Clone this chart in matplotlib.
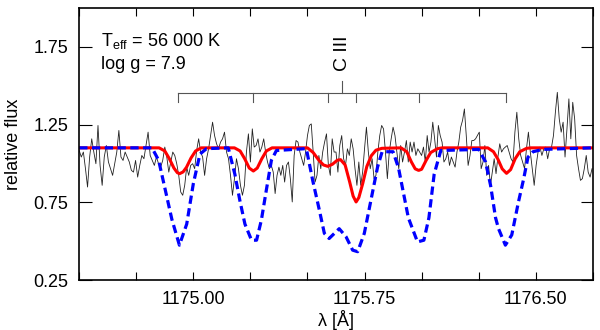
import numpy as np
import matplotlib
matplotlib.use('Agg')
import matplotlib.pyplot as plt
from matplotlib.ticker import FixedLocator, MultipleLocator

plt.rcParams['font.family'] = ['Liberation Sans', 'DejaVu Sans']
plt.rcParams['mathtext.default'] = 'regular'

# observed spectrum, read in six chunks (start/end wavelength of each chunk)
obs_edges = [1174.50, 1174.875, 1175.25, 1175.625, 1176.00, 1176.375, 1176.755]
obs_chunks = [
    [1.083, 1.041, 1.073, 0.966, 0.848, 1.041, 1.158, 1.073, 0.998, 1.244, 0.987, 0.859, 1.041, 1.115,
     1.009, 0.966, 0.923, 0.998, 1.073, 1.212, 1.041, 1.019, 1.073, 1.041, 1.009, 0.955, 0.944, 1.019,
     0.912, 0.987, 1.051, 1.030, 1.115, 1.201, 1.051, 1.019, 0.987, 1.041, 0.998, 0.976, 1.019],
    [1.105, 1.041, 0.944, 1.009, 1.073, 1.051, 0.998, 0.923, 0.816, 0.795, 0.859, 0.976, 0.923, 0.987,
     0.998, 0.966, 1.083, 1.158, 1.073, 1.041, 0.923, 1.030, 1.094, 1.179, 1.265, 1.179, 1.126, 1.094,
     1.137, 1.158, 1.201, 1.073, 1.030, 0.923, 0.795, 0.902, 1.030, 0.966, 0.859, 0.795, 0.859, 1.073, 1.190],
    [1.009, 1.222, 1.105, 1.115, 1.158, 1.073, 1.105, 1.158, 1.073, 1.009, 0.966, 0.987, 0.944, 0.806,
     0.923, 0.976, 0.923, 0.987, 0.880, 0.987, 1.009, 0.902, 0.752, 1.051, 1.147, 1.137, 1.073, 1.030,
     0.987, 1.073, 1.179, 1.244, 1.254, 1.073, 0.880, 0.923, 1.051, 0.966, 1.073, 1.137, 1.190, 0.987,
     0.923, 1.158, 1.073],
    [1.073, 0.944, 1.115, 1.179, 1.030, 0.987, 1.094, 1.051, 1.158, 1.094, 0.966, 0.859, 1.009, 0.859,
     0.944, 1.094, 1.233, 1.073, 0.966, 1.030, 0.902, 0.923, 1.073, 1.179, 1.244, 1.222, 1.073, 0.902,
     1.073, 1.158, 1.233, 1.179, 1.073, 0.966, 1.115, 1.009, 1.073, 1.147, 1.009, 1.137, 1.073, 1.137,
     1.051, 1.094, 1.073],
    [1.051, 1.105, 1.009, 1.179, 1.073, 1.137, 1.265, 1.158, 1.041, 1.244, 1.179, 1.137, 1.009, 1.030,
     1.073, 0.987, 1.041, 1.009, 0.976, 1.073, 1.137, 1.233, 1.276, 1.350, 1.179, 0.987, 1.051, 1.147,
     1.147, 1.158, 1.179, 1.201, 0.966, 1.009, 1.115, 0.923, 0.987, 0.859, 0.944, 1.030, 0.934, 1.041,
     1.126, 1.073, 1.094, 1.105],
    [1.115, 1.073, 1.030, 1.009, 1.201, 1.329, 1.158, 1.051, 1.009, 0.966, 1.094, 1.201, 1.073, 0.966,
     0.859, 0.987, 1.073, 1.105, 1.051, 1.094, 1.105, 1.030, 1.094, 1.105, 1.179, 1.329, 1.457, 1.286,
     1.201, 1.265, 1.041, 1.222, 1.415, 1.158, 1.393, 1.286, 1.051, 0.966, 0.891, 0.902, 0.966, 1.051,
     0.944, 0.912, 0.966],
]

# model with C III (red, solid)
red_wave = [1174.50, 1174.85, 1174.875, 1174.895, 1174.915, 1174.93, 1174.94, 1174.955, 1174.97, 1174.99,
            1175.01, 1175.035, 1175.18, 1175.205, 1175.225, 1175.245, 1175.263, 1175.28, 1175.30, 1175.32,
            1175.345, 1175.50, 1175.525, 1175.55, 1175.57, 1175.589, 1175.61, 1175.63, 1175.645, 1175.665,
            1175.685, 1175.70, 1175.713, 1175.725, 1175.742, 1175.76, 1175.78, 1175.80, 1175.826, 1175.91,
            1175.935, 1175.955, 1175.972, 1175.987, 1176.00, 1176.02, 1176.04, 1176.07, 1176.09, 1176.29,
            1176.315, 1176.335, 1176.353, 1176.372, 1176.39, 1176.41, 1176.43, 1176.46, 1176.48, 1176.75]
red_flux = [1.10, 1.10, 1.08, 1.03, 0.97, 0.94, 0.934, 0.945, 0.975, 1.035,
            1.08, 1.10, 1.10, 1.08, 1.03, 0.97, 0.951, 0.97, 1.03, 1.08,
            1.10, 1.10, 1.07, 1.02, 0.99, 0.981, 0.995, 1.02, 1.024, 0.99,
            0.88, 0.79, 0.752, 0.78, 0.87, 0.98, 1.05, 1.085, 1.097, 1.10,
            1.075, 1.01, 0.965, 0.955, 0.962, 1.02, 1.07, 1.095, 1.10, 1.10,
            1.075, 1.025, 0.965, 0.936, 0.96, 1.03, 1.075, 1.097, 1.10, 1.10]

# model with higher C abundance (blue, dashed)
blue_wave = [1174.50, 1174.819, 1174.848, 1174.877, 1174.906, 1174.939, 1174.971, 1175.000, 1175.029,
             1175.058, 1175.153, 1175.182, 1175.204, 1175.226, 1175.255, 1175.277, 1175.298, 1175.320,
             1175.342, 1175.364, 1175.495, 1175.523, 1175.552, 1175.574, 1175.595, 1175.639, 1175.669,
             1175.698, 1175.720, 1175.749, 1175.778, 1175.807, 1175.827, 1175.875, 1175.899, 1175.942,
             1175.982, 1176.010, 1176.032, 1176.055, 1176.084, 1176.250, 1176.280, 1176.302, 1176.324,
             1176.337, 1176.367, 1176.395, 1176.424, 1176.447, 1176.466, 1176.488, 1176.53, 1176.75]
blue_flux = [1.10, 1.10, 1.02, 0.83, 0.64, 0.474, 0.61, 0.87, 1.06,
             1.095, 1.10, 0.93, 0.76, 0.61, 0.506, 0.506, 0.635, 0.83,
             1.02, 1.083, 1.095, 0.89, 0.70, 0.55, 0.517, 0.58, 0.528,
             0.442, 0.432, 0.55, 0.763, 0.976, 1.075, 1.075, 0.97, 0.65,
             0.495, 0.506, 0.65, 0.93, 1.083, 1.09, 1.01, 0.86, 0.65,
             0.58, 0.474, 0.54, 0.75, 0.90, 1.04, 1.075, 1.09, 1.10]

c3_lines = [1174.933, 1175.263, 1175.590, 1175.711, 1175.987, 1176.370]

x_ticks = [1175.00, 1175.75, 1176.50]
y_ticks = [0.25, 0.75, 1.25, 1.75]

obs_wave = np.concatenate([np.linspace(obs_edges[i], obs_edges[i + 1], len(c), endpoint=False)
                           for i, c in enumerate(obs_chunks)])
obs_flux = np.concatenate(obs_chunks)

fig = plt.figure(figsize=(6.0, 3.3), dpi=100)
ax = fig.add_axes([0.132, 0.1515, 0.856, 0.8245])

ax.plot(obs_wave, obs_flux, color='#222222', lw=0.6)
ax.plot(red_wave, red_flux, color='red', lw=2.2)
ax.plot(blue_wave, blue_flux, color='blue', lw=2.3, dashes=(2.6, 1.4), dash_capstyle='butt')

# line identification bracket
y_bar, y_tick, y_stem = 1.455, 1.397, 1.532
lc = '#555555'
ax.plot([c3_lines[0], c3_lines[-1]], [y_bar, y_bar], color=lc, lw=0.8)
for w in c3_lines:
    ax.plot([w, w], [y_bar, y_tick], color=lc, lw=0.8)
mid = 0.5 * (c3_lines[0] + c3_lines[-1])
ax.plot([mid, mid], [y_bar, y_stem], color=lc, lw=0.8)
ax.text(mid, 1.595, 'C III', rotation=90, ha='center', va='bottom', fontsize=14)

ax.text(1174.595, 1.79, r'T$_{eff}$ = 56 000 K', fontsize=13, va='center')
ax.text(1174.595, 1.635, 'log g = 7.9', fontsize=13, va='center')

ax.set_xlim(1174.50, 1176.75)
ax.set_ylim(0.25, 2.0)
ax.xaxis.set_major_locator(FixedLocator(x_ticks))
ax.xaxis.set_minor_locator(MultipleLocator(0.25))
ax.yaxis.set_major_locator(FixedLocator(y_ticks))
ax.xaxis.set_major_formatter(plt.FormatStrFormatter('%.2f'))
ax.yaxis.set_major_formatter(plt.FormatStrFormatter('%.2f'))
ax.tick_params(axis='both', which='both', direction='in', top=True, right=True, labelsize=13, width=0.8)
ax.tick_params(axis='x', which='both', length=6, pad=8)
ax.tick_params(axis='y', which='major', length=9, pad=8)
for s in ax.spines.values():
    s.set_linewidth(1.2)

ax.set_xlabel('λ [Å]', fontsize=13, labelpad=1)
ax.set_ylabel('relative flux', fontsize=13, labelpad=8)

fig.savefig('out.png', dpi=100)
